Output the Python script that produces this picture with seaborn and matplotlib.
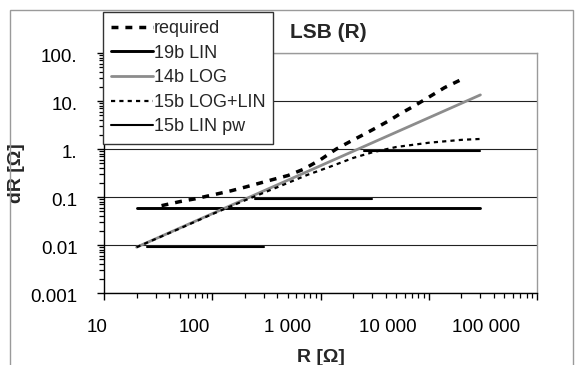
import numpy as np
import pandas as pd
import matplotlib
matplotlib.use("Agg")
import matplotlib.pyplot as plt
import matplotlib.transforms as mtransforms
from matplotlib.lines import Line2D
from matplotlib.patches import Rectangle
from matplotlib.ticker import LogLocator, NullFormatter
import seaborn as sns

# Resistance R [ohm] vs. resolution dR [ohm]
req_r = [34, 50, 70, 100, 150, 200, 360, 500, 700, 1000, 1400, 1900, 2500,
         3300, 4300, 5500, 7200, 10000, 14000, 20000]
req_dr = [0.066, 0.08, 0.092, 0.11, 0.135, 0.16, 0.23, 0.28, 0.38, 0.6, 1.0,
          1.45, 2.0, 2.8, 3.9, 5.5, 7.7, 12, 19, 28]

lin19_r = [20, 30000]
lin19_dr = [0.06, 0.06]

log14_r = [20, 30000]
log14_dr = [0.009, 13.4]

loglin15_r = [20, 50, 100, 200, 400, 760, 1235, 2000, 3000, 5000, 10000,
              20000, 30000]
loglin15_dr = [0.009, 0.022, 0.044, 0.085, 0.16, 0.29, 0.43, 0.65, 0.85, 1.1,
               1.35, 1.55, 1.62]

# piecewise linear ranges: (start, end) pairs per range
pw15_r = [25, 300, 250, 3000, 2500, 30000]
pw15_dr = [0.0092, 0.0092, 0.092, 0.092, 0.92, 0.92]
pw15_seg = [0, 0, 1, 1, 2, 2]

series_labels = ["required", "19b LIN", "14b LOG", "15b LOG+LIN", "15b LIN pw"]

xtick_vals = [10, 100, 1000, 10000, 100000]
xtick_labels = ["10", "100", "1 000", "10 000", "100 000"]
ytick_vals = [0.001, 0.01, 0.1, 1, 10, 100]
ytick_labels = ["0.001", "0.01", "0.1", "1.", "10.", "100."]

sns.set_style("white")
plt.rcParams["font.family"] = ["Liberation Sans", "DejaVu Sans"]
plt.rcParams["lines.scale_dashes"] = False

GREY = "#8c8c8c"

fig = plt.figure(figsize=(5.78, 3.65), dpi=100)
fig.patch.set_facecolor("white")
W, H = 578, 365
ax = fig.add_axes([104 / W, 1 - 293 / H, 433 / W, 240 / H])

# chart border
fig.patches.append(Rectangle((10 / W, -0.1), 563 / W, 1.1 - 10 / H,
                             transform=fig.transFigure, fill=False,
                             edgecolor="#9a9a9a", lw=1.0, zorder=0))

df_req = pd.DataFrame({"R": req_r, "dR": req_dr})
df_lin19 = pd.DataFrame({"R": lin19_r, "dR": lin19_dr})
df_log14 = pd.DataFrame({"R": log14_r, "dR": log14_dr})
df_ll15 = pd.DataFrame({"R": loglin15_r, "dR": loglin15_dr})
df_pw15 = pd.DataFrame({"R": pw15_r, "dR": pw15_dr, "seg": pw15_seg})

sty_req = dict(color="black", lw=2.5, linestyle=(0, (5, 5)))
sty_lin19 = dict(color="black", lw=2.1, linestyle="-")
sty_log14 = dict(color=GREY, lw=2.0, linestyle="-")
sty_ll15 = dict(color="black", lw=1.6, linestyle=(0, (3, 3)))
sty_pw15 = dict(color="black", lw=1.5, linestyle="-")

sns.lineplot(data=df_lin19, x="R", y="dR", ax=ax, estimator=None, sort=False,
             zorder=3, **sty_lin19)
sns.lineplot(data=df_pw15, x="R", y="dR", units="seg", ax=ax, estimator=None,
             sort=False, zorder=3, **sty_pw15)
sns.lineplot(data=df_log14, x="R", y="dR", ax=ax, estimator=None, sort=False,
             zorder=4, **sty_log14)
sns.lineplot(data=df_ll15, x="R", y="dR", ax=ax, estimator=None, sort=False,
             zorder=5, **sty_ll15)
sns.lineplot(data=df_req, x="R", y="dR", ax=ax, estimator=None, sort=False,
             zorder=6, **sty_req)

ax.set_xscale("log")
ax.set_yscale("log")
ax.set_xlim(10, 100000)
ax.set_ylim(0.001, 100)

ax.set_xticks(xtick_vals, labels=xtick_labels)
ax.set_yticks(ytick_vals, labels=ytick_labels)
ax.xaxis.set_minor_locator(LogLocator(base=10, subs=np.arange(2, 10)))
ax.yaxis.set_minor_locator(LogLocator(base=10, subs=np.arange(2, 10)))
ax.xaxis.set_minor_formatter(NullFormatter())
ax.yaxis.set_minor_formatter(NullFormatter())

ax.tick_params(which="major", direction="out", length=5, width=1,
               color="black", pad=14, labelsize=13.5, labelcolor="black")
ax.tick_params(which="minor", direction="out", length=3.4, width=0.9,
               color="black")
ax.tick_params(axis="x", which="both", bottom=True, top=False)
ax.tick_params(axis="y", which="both", left=True, right=False)

for lab, dx in zip(ax.get_xticklabels(), [-7, -18, -33, -41, -51]):
    lab.set_transform(lab.get_transform() +
                      mtransforms.ScaledTranslation(dx / 100, 0, fig.dpi_scale_trans))
for lab in ax.get_yticklabels():
    lab.set_transform(lab.get_transform() +
                      mtransforms.ScaledTranslation(0, -3 / 100, fig.dpi_scale_trans))

ax.yaxis.grid(True, which="major", color="#222222", lw=0.8)
ax.xaxis.grid(False)
ax.set_axisbelow(True)

for side in ("left", "bottom"):
    ax.spines[side].set_color("black")
    ax.spines[side].set_linewidth(1.0)
for side in ("top", "right"):
    ax.spines[side].set_color("#9a9a9a")
    ax.spines[side].set_linewidth(1.0)

ax.set_xlabel("R [Ω]", fontsize=14, fontweight="bold")
ax.set_ylabel("dR [Ω]", fontsize=14, fontweight="bold")
ax.xaxis.set_label_coords(0.5, (293 - 349) / 240)
ax.yaxis.set_label_coords((25 - 104) / 433, 0.5)

fig.text(290 / W, 1 - 32 / H, "LSB (R)", fontsize=15, fontweight="bold",
         ha="left", va="center")

handles = [Line2D([], [], **s) for s in (sty_req, sty_lin19, sty_log14,
                                         sty_ll15, sty_pw15)]
leg = fig.legend(handles, series_labels, loc="upper left",
                 bbox_to_anchor=(103 / W, 1 - 12 / H), frameon=True,
                 fancybox=False, framealpha=1, edgecolor="#333333",
                 fontsize=13, handlelength=2.3, handletextpad=0.05,
                 labelspacing=0.42, borderpad=0.45, borderaxespad=0)
leg.get_frame().set_linewidth(1.0)
leg.set_zorder(10)

fig.savefig("out.png", dpi=100, facecolor="white")
